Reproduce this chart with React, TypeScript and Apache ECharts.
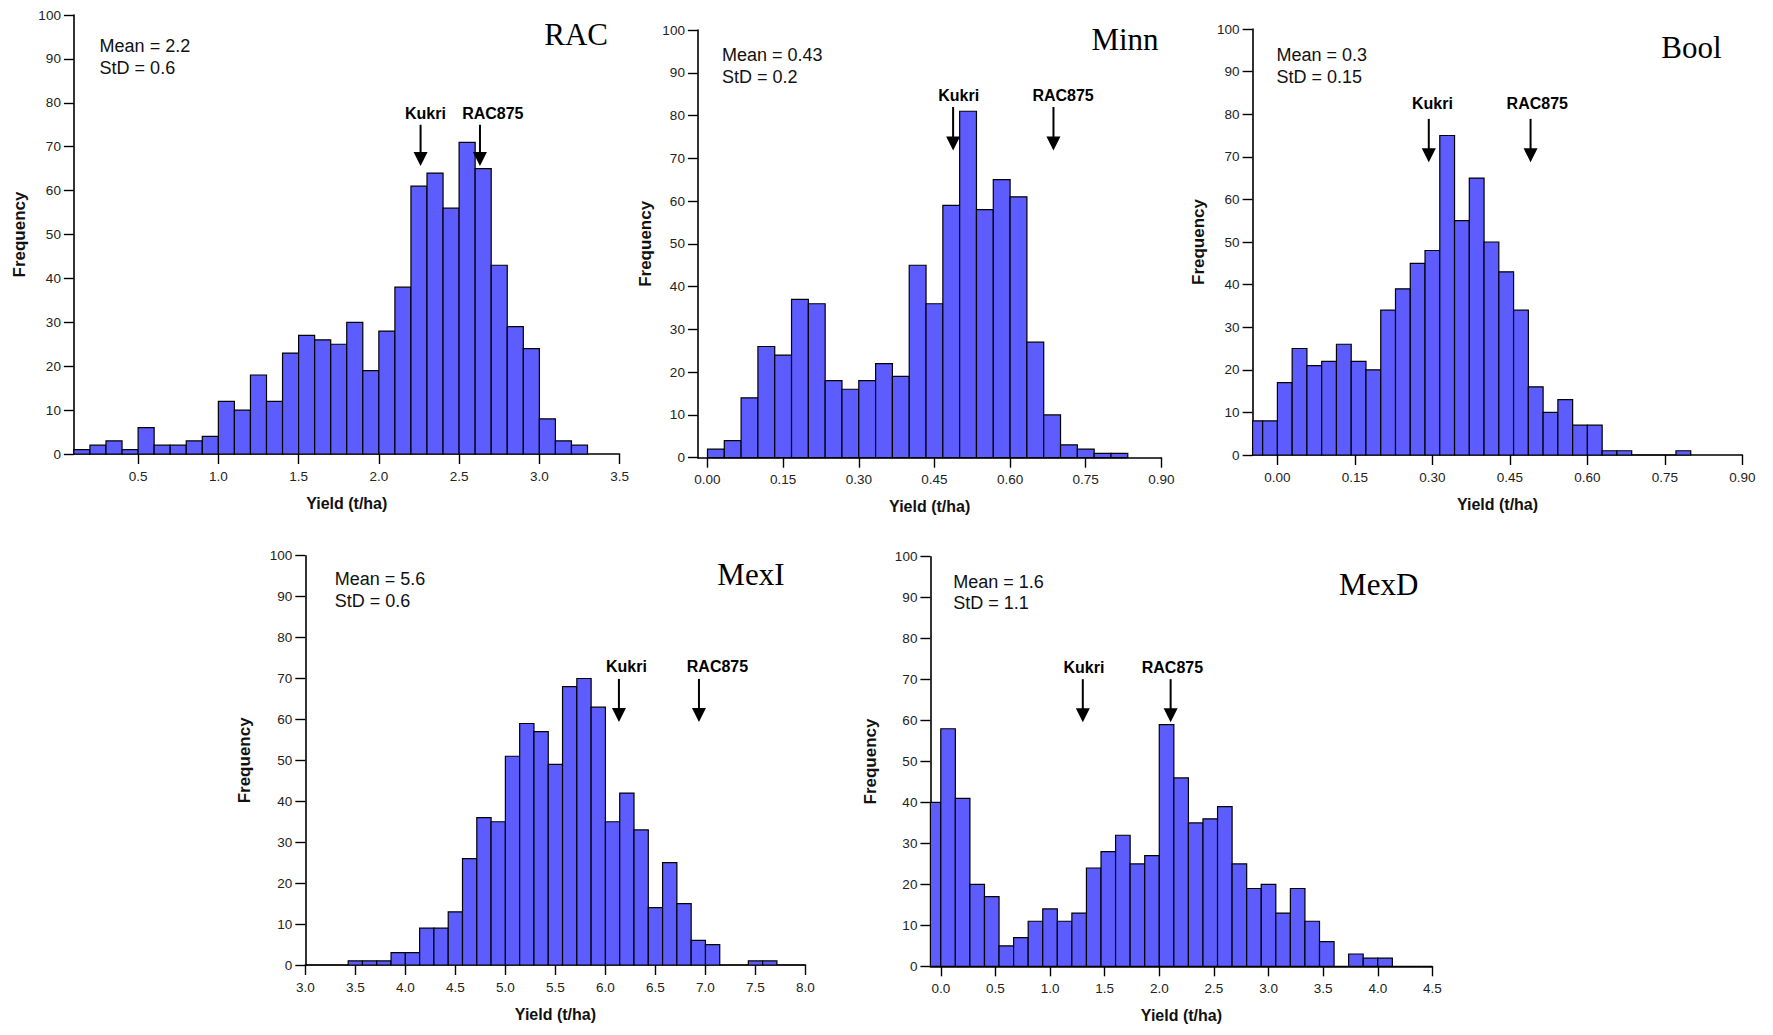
import React, { useEffect, useRef } from "react";
import * as echarts from "echarts";

// ---------- DATA ----------
const panelNames = ["RAC", "Minn", "Bool", "MexI", "MexD"];
const meanLabels = ["Mean = 2.2", "Mean = 0.43", "Mean = 0.3", "Mean = 5.6", "Mean = 1.6"];
const stdLabels = ["StD = 0.6", "StD = 0.2", "StD = 0.15", "StD = 0.6", "StD = 1.1"];

// RAC
const racBinStart = 0.1;
const racBinWidth = 0.1;
const racCounts = [1, 2, 3, 1, 6, 2, 2, 3, 4, 12, 10, 18, 12, 23, 27, 26, 25, 30, 19, 28, 38, 61, 64, 56, 71, 65, 43, 29, 24, 8, 3, 2];
const racXTicks = [0.5, 1.0, 1.5, 2.0, 2.5, 3.0, 3.5];
const racMarkers = [
  { name: "Kukri", x: 2.26, labelX: 2.29 },
  { name: "RAC875", x: 2.63, labelX: 2.71 },
];

// Minn
const minnBinStart = 0;
const minnBinWidth = 1 / 30;
const minnCounts = [2, 4, 14, 26, 24, 37, 36, 18, 16, 18, 22, 19, 45, 36, 59, 81, 58, 65, 61, 27, 10, 3, 2, 1, 1];
const minnXTicks = [0, 0.15, 0.3, 0.45, 0.6, 0.75, 0.9];
const minnMarkers = [
  { name: "Kukri", x: 0.487, labelX: 0.498 },
  { name: "RAC875", x: 0.686, labelX: 0.705 },
];

// Bool
const boolBinStart = -2 / 35;
const boolBinWidth = 1 / 35;
const boolCounts = [8, 8, 17, 25, 21, 22, 26, 22, 20, 34, 39, 45, 48, 75, 55, 65, 50, 43, 34, 16, 10, 13, 7, 7, 1, 1, 0, 0, 0, 1];
const boolXTicks = [0, 0.15, 0.3, 0.45, 0.6, 0.75, 0.9];
const boolMarkers = [
  { name: "Kukri", x: 0.293, labelX: 0.3 },
  { name: "RAC875", x: 0.49, labelX: 0.503 },
];

// MexI
const mexIBinStart = 3.0;
const mexIBinWidth = 1 / 7;
const mexICounts = [0, 0, 0, 1, 1, 1, 3, 3, 9, 9, 13, 26, 36, 35, 51, 59, 57, 49, 68, 70, 63, 35, 42, 33, 14, 25, 15, 6, 5, 0, 0, 1, 1, 0, 0];
const mexIXTicks = [3.0, 3.5, 4.0, 4.5, 5.0, 5.5, 6.0, 6.5, 7.0, 7.5, 8.0];
const mexIMarkers = [
  { name: "Kukri", x: 6.135, labelX: 6.21 },
  { name: "RAC875", x: 6.935, labelX: 7.12 },
];

// MexD
const mexDBinStart = -2 / 15;
const mexDBinWidth = 2 / 15;
const mexDCounts = [40, 58, 41, 20, 17, 5, 7, 11, 14, 11, 13, 24, 28, 32, 25, 27, 59, 46, 35, 36, 39, 25, 19, 20, 13, 19, 11, 6, 0, 3, 2, 2, 0, 0, 0];
const mexDXTicks = [0, 0.5, 1.0, 1.5, 2.0, 2.5, 3.0, 3.5, 4.0, 4.5];
const mexDMarkers = [
  { name: "Kukri", x: 1.3, labelX: 1.31 },
  { name: "RAC875", x: 2.104, labelX: 2.12 },
];

// ---------- LAYOUT ----------
const SANS = "'Liberation Sans', Arial, sans-serif";
const SERIF = "'Liberation Serif', 'Times New Roman', serif";
const BAR_FILL = "#5c5cff";

const panels = [
  {
    binStart: racBinStart, binWidth: racBinWidth, counts: racCounts, xTicks: racXTicks, markers: racMarkers, decimals: 1,
    grid: { left: 73.9, top: 15, width: 545.7, height: 439 }, xMin: 0.1, xMax: 3.5,
    arrowTop: 75, arrowTip: 65.6, labelY: 77.6, yNameGap: 46,
    meanPos: [99.6, 46], stdPos: [99.6, 68], titlePos: [608, 34],
  },
  {
    binStart: minnBinStart, binWidth: minnBinWidth, counts: minnCounts, xTicks: minnXTicks, markers: minnMarkers, decimals: 2,
    grid: { left: 697.9, top: 30, width: 463.5, height: 427.7 }, xMin: -0.019, xMax: 0.9,
    arrowTop: 82, arrowTip: 71.8, labelY: 84.6, yNameGap: 44,
    meanPos: [722, 55], stdPos: [722, 77], titlePos: [1158.6, 39],
  },
  {
    binStart: boolBinStart, binWidth: boolBinWidth, counts: boolCounts, xTicks: boolXTicks, markers: boolMarkers, decimals: 2,
    grid: { left: 1252.6, top: 29, width: 489.8, height: 426 }, xMin: -0.048, xMax: 0.9,
    arrowTop: 78.9, arrowTip: 68.7, labelY: 82.6, yNameGap: 46,
    meanPos: [1276.4, 55], stdPos: [1276.4, 77], titlePos: [1721.6, 47],
  },
  {
    binStart: mexIBinStart, binWidth: mexIBinWidth, counts: mexICounts, xTicks: mexIXTicks, markers: mexIMarkers, decimals: 1,
    grid: { left: 305.3, top: 555.7, width: 500.2, height: 409.3 }, xMin: 3.0, xMax: 8.0,
    arrowTop: 69.9, arrowTip: 59.4, labelY: 72.9, yNameGap: 52,
    meanPos: [334.8, 579], stdPos: [334.8, 601], titlePos: [784.5, 574],
  },
  {
    binStart: mexDBinStart, binWidth: mexDBinWidth, counts: mexDCounts, xTicks: mexDXTicks, markers: mexDMarkers, decimals: 1,
    grid: { left: 930.4, top: 556.7, width: 502, height: 409.6 }, xMin: -0.095, xMax: 4.5,
    arrowTop: 70.1, arrowTip: 59.6, labelY: 72.9, yNameGap: 51,
    meanPos: [953.3, 582], stdPos: [953.3, 603], titlePos: [1418.3, 584],
  },
];

function buildOption() {
  const grids: any[] = [];
  const xAxes: any[] = [];
  const yAxes: any[] = [];
  const series: any[] = [];
  const graphics: any[] = [];

  panels.forEach((p, i) => {
    grids.push({ left: p.grid.left, top: p.grid.top, width: p.grid.width, height: p.grid.height, containLabel: false });
    const axisLine = { show: true, onZero: false, lineStyle: { color: "#000", width: 1.6 } };
    const axisTick = { show: true, length: 10, inside: false, lineStyle: { color: "#000", width: 1.4 } };
    xAxes.push({
      type: "value",
      gridIndex: i,
      min: p.xMin,
      max: p.xMax,
      axisLine,
      axisTick: { ...axisTick, customValues: p.xTicks },
      axisLabel: {
        customValues: p.xTicks,
        formatter: (v: number) => v.toFixed(p.decimals),
        color: "#222",
        fontSize: 13.5,
        fontFamily: SANS,
        margin: 15,
      },
      splitLine: { show: false },
      name: "Yield (t/ha)",
      nameLocation: "middle",
      nameGap: 41,
      nameTextStyle: { fontFamily: SANS, fontWeight: "bold", fontSize: 16, color: "#111" },
    });
    yAxes.push({
      type: "value",
      gridIndex: i,
      min: 0,
      max: 100,
      interval: 10,
      axisLine,
      axisTick,
      axisLabel: { color: "#222", fontSize: 13.5, fontFamily: SANS, margin: 13 },
      splitLine: { show: false },
      name: "Frequency",
      nameLocation: "middle",
      nameGap: p.yNameGap,
      nameRotate: 90,
      nameTextStyle: { fontFamily: SANS, fontWeight: "bold", fontSize: 17, color: "#111" },
    });

    const binData = p.counts.map((c, k) => [p.binStart + k * p.binWidth, p.binStart + (k + 1) * p.binWidth, c]);
    series.push({
      type: "custom",
      name: panelNames[i],
      xAxisIndex: i,
      yAxisIndex: i,
      data: binData,
      encode: { x: [0, 1], y: 2 },
      renderItem: (params: any, api: any) => {
        const x0 = api.value(0);
        const x1 = api.value(1);
        const c = api.value(2);
        const pTop = api.coord([x0, c]);
        const pBot = api.coord([x1, 0]);
        const cs = params.coordSys;
        const left = Math.max(pTop[0], cs.x);
        const right = Math.min(pBot[0], cs.x + cs.width);
        if (right <= left) return null;
        return {
          type: "rect",
          shape: { x: left, y: pTop[1], width: right - left, height: pBot[1] - pTop[1] },
          style: { fill: BAR_FILL, stroke: "#000", lineWidth: 1.2 },
        };
      },
      z: 2,
    });

    const markerData = p.markers.map((m) => [m.x, m.labelX, p.arrowTop, p.arrowTip, p.labelY]);
    series.push({
      type: "custom",
      name: panelNames[i] + " markers",
      xAxisIndex: i,
      yAxisIndex: i,
      data: markerData,
      encode: { x: [0, 1], y: [2, 3, 4] },
      renderItem: (params: any, api: any) => {
        const m = p.markers[params.dataIndex];
        const x = api.value(0);
        const lx = api.value(1);
        const top = api.coord([x, api.value(2)]);
        const tip = api.coord([x, api.value(3)]);
        const lab = api.coord([lx, api.value(4)]);
        const headH = 14;
        const headW = 7;
        return {
          type: "group",
          children: [
            {
              type: "line",
              shape: { x1: top[0], y1: top[1], x2: tip[0], y2: tip[1] - headH + 1 },
              style: { stroke: "#000", lineWidth: 2 },
            },
            {
              type: "polygon",
              shape: { points: [[tip[0] - headW, tip[1] - headH], [tip[0] + headW, tip[1] - headH], [tip[0], tip[1]]] },
              style: { fill: "#000" },
            },
            {
              type: "text",
              x: lab[0],
              y: lab[1],
              style: {
                text: m.name,
                fontSize: 16,
                fontWeight: "bold",
                fontFamily: SANS,
                fill: "#000",
                align: "center",
                verticalAlign: "middle",
              },
            },
          ],
        };
      },
      z: 5,
    });

    graphics.push({
      type: "text",
      x: p.meanPos[0],
      y: p.meanPos[1],
      style: { text: meanLabels[i], fontSize: 18, fontFamily: SANS, fill: "#111", verticalAlign: "middle" },
    });
    graphics.push({
      type: "text",
      x: p.stdPos[0],
      y: p.stdPos[1],
      style: { text: stdLabels[i], fontSize: 18, fontFamily: SANS, fill: "#111", verticalAlign: "middle" },
    });
    graphics.push({
      type: "text",
      x: p.titlePos[0],
      y: p.titlePos[1],
      style: {
        text: panelNames[i],
        fontSize: 31,
        fontFamily: SERIF,
        fill: "#000",
        align: "right",
        verticalAlign: "middle",
      },
    });
  });

  return {
    animation: false,
    backgroundColor: "#fff",
    grid: grids,
    xAxis: xAxes,
    yAxis: yAxes,
    series,
    graphic: graphics,
  };
}

export default function App() {
  const ref = useRef<HTMLDivElement>(null);
  useEffect(() => {
    document.body.style.margin = "0";
    if (!ref.current) return;
    const chart = echarts.init(ref.current, null, { renderer: "svg" });
    chart.setOption(buildOption() as any);
    return () => chart.dispose();
  }, []);
  return <div ref={ref} style={{ width: 1773, height: 1035, background: "#fff" }} />;
}
